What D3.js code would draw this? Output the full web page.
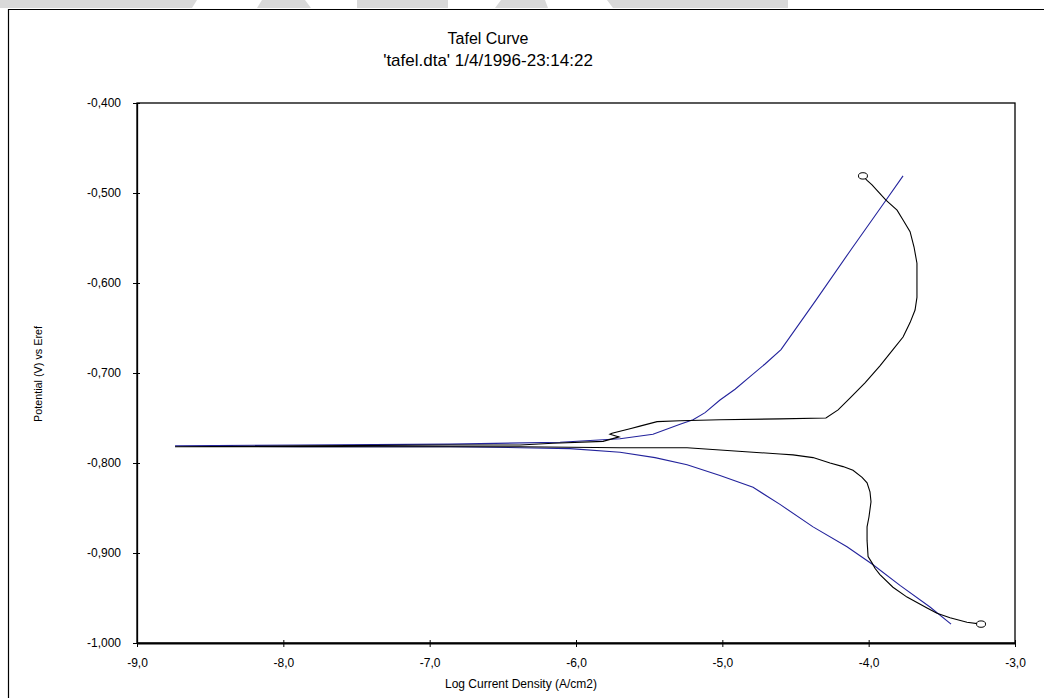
<!DOCTYPE html>
<html>
<head>
<meta charset="utf-8">
<script src="https://cdn.jsdelivr.net/npm/d3@7/dist/d3.min.js"></script>
<style>
  html, body { margin: 0; padding: 0; background: #fff; }
  svg { display: block; }
  text { font-family: "Liberation Sans", Arial, sans-serif; fill: #000; }
</style>
</head>
<body>
<svg id="chart" width="1044" height="698"></svg>
<script>
// Axis ticks
const xTicks = [-9, -8, -7, -6, -5, -4, -3];
const yTicks = [-0.4, -0.5, -0.6, -0.7, -0.8, -0.9, -1.0];

// Measured scan: cathodic end -> corrosion potential -> anodic end
const measuredLogI = [
  -3.232, -3.328, -3.444, -3.533, -3.601, -3.738, -3.834, -3.923, -3.957, -3.977,
  -4.004, -4.011, -4.011, -3.998, -3.984, -3.991, -4.011, -4.045, -4.107, -4.175,
  -4.264, -4.380, -4.517, -4.606, -4.790, -5.241, -5.699, -6.383, -7.886, -8.740,
  -7.886, -6.861, -6.383, -6.157, -5.815, -5.706, -5.768, -5.754, -5.631, -5.563,
  -5.446, -5.289, -5.016, -4.606, -4.292, -4.209, -4.128, -4.025, -3.923, -3.834,
  -3.765, -3.717, -3.683, -3.670, -3.670, -3.690, -3.717, -3.765, -3.806, -3.882,
  -3.943, -3.977, -4.011, -4.039
];
const measuredE = [
  -0.979, -0.977, -0.972, -0.967, -0.961, -0.949, -0.938, -0.924, -0.917, -0.911,
  -0.904, -0.886, -0.871, -0.860, -0.843, -0.832, -0.822, -0.816, -0.808, -0.804,
  -0.800, -0.794, -0.791, -0.790, -0.788, -0.783, -0.783, -0.782, -0.782, -0.782,
  -0.781, -0.780, -0.780, -0.778, -0.776, -0.771, -0.768, -0.767, -0.762, -0.759,
  -0.754, -0.753, -0.752, -0.751, -0.750, -0.741, -0.728, -0.711, -0.692, -0.674,
  -0.660, -0.644, -0.630, -0.616, -0.578, -0.560, -0.543, -0.530, -0.519, -0.508,
  -0.497, -0.491, -0.486, -0.481
];

// Tafel fit: anodic branch top -> Ecorr -> cathodic branch end
const fitLogI = [
  -3.765, -3.882, -4.121, -4.360, -4.599, -4.708, -4.811, -4.913, -5.016, -5.118,
  -5.200, -5.289, -5.474, -5.699, -6.109, -6.861, -7.886, -8.740, -7.886, -6.861,
  -6.383, -6.041, -5.699, -5.460, -5.241, -5.016, -4.790, -4.606, -4.380, -4.148,
  -3.970, -3.786, -3.581, -3.437
];
const fitE = [
  -0.481, -0.508, -0.563, -0.619, -0.674, -0.690, -0.704, -0.718, -0.730, -0.744,
  -0.752, -0.757, -0.768, -0.773, -0.777, -0.779, -0.780, -0.781, -0.782, -0.782,
  -0.783, -0.784, -0.788, -0.794, -0.802, -0.814, -0.827, -0.846, -0.871, -0.893,
  -0.913, -0.936, -0.960, -0.979
];

const svg = d3.select("#chart");
const plot = { left: 137, right: 1015, top: 103, bottom: 643 };

const x = d3.scaleLinear().domain([-9, -3]).range([plot.left, plot.right]);
const y = d3.scaleLinear().domain([-0.4, -1.0]).range([plot.top, plot.bottom]);

const locale = d3.formatLocale({ decimal: ",", thousands: ".", grouping: [3], currency: ["", ""], minus: "-" });
const fmtX = locale.format(".1f");
const fmtY = locale.format(".3f");

// Light grey banner shapes along the top edge
const banner = [
  [[0,0],[197,0],[192,8],[0,8]],
  [[257,8],[262,0],[305,0],[311,8]],
  [[357,0],[448,0],[448,8],[357,8]],
  [[495,8],[501,0],[545,0],[548,8]],
  [[607,0],[788,0],[788,8],[613,8]]
];
svg.append("g").selectAll("polygon").data(banner).join("polygon")
  .attr("points", d => d.map(p => p.join(",")).join(" "))
  .attr("fill", "#d9d9d9");

// Outer frame (left and top edges visible)
svg.append("path")
  .attr("d", "M8.5,700 V9.5 H1050")
  .attr("fill", "none").attr("stroke", "#000").attr("stroke-width", 1.2);

// Titles
svg.append("text").attr("x", 488).attr("y", 44).attr("text-anchor", "middle")
  .attr("font-size", 16).text("Tafel Curve");
svg.append("text").attr("x", 488).attr("y", 66).attr("text-anchor", "middle")
  .attr("font-size", 17).text("'tafel.dta' 1/4/1996-23:14:22");

// Plot box
svg.append("rect")
  .attr("x", plot.left).attr("y", plot.top)
  .attr("width", plot.right - plot.left).attr("height", plot.bottom - plot.top)
  .attr("fill", "none").attr("stroke", "#000").attr("stroke-width", 1.3);

// Axes
const gx = svg.append("g").attr("transform", `translate(0,${plot.bottom})`)
  .call(d3.axisBottom(x).tickValues(xTicks).tickFormat(fmtX)
    .tickSizeInner(4).tickSizeOuter(0).tickPadding(11));
gx.select(".domain").attr("stroke-width", 2);
gx.selectAll(".tick line").attr("y1", -3);
gx.selectAll(".tick text").attr("font-size", 12).attr("font-family", "Liberation Sans, Arial, sans-serif");

const gy = svg.append("g").attr("transform", `translate(${plot.left},0)`)
  .call(d3.axisLeft(y).tickValues(yTicks).tickFormat(fmtY)
    .tickSizeInner(4).tickSizeOuter(0).tickPadding(12));
gy.select(".domain").attr("stroke-width", 1.3);
gy.selectAll(".tick line").attr("x1", 3);
gy.selectAll(".tick text").attr("font-size", 12).attr("font-family", "Liberation Sans, Arial, sans-serif");

// Axis titles
svg.append("text").attr("x", 521).attr("y", 688).attr("text-anchor", "middle")
  .attr("font-size", 12).text("Log Current Density (A/cm2)");
svg.append("text")
  .attr("transform", "translate(42,374) rotate(-90)")
  .attr("text-anchor", "middle").attr("font-size", 11)
  .attr("textLength", 96).attr("lengthAdjust", "spacingAndGlyphs")
  .text("Potential (V) vs Eref");

// Curves
const line = d3.line().x(d => x(d[0])).y(d => y(d[1]));
const measured = measuredLogI.map((v, i) => [v, measuredE[i]]);
const fit = fitLogI.map((v, i) => [v, fitE[i]]);

svg.append("path").datum(fit)
  .attr("d", line).attr("fill", "none")
  .attr("stroke", "#23239c").attr("stroke-width", 1.1);

svg.append("path").datum(measured)
  .attr("d", line).attr("fill", "none")
  .attr("stroke", "#000").attr("stroke-width", 1.1);

// End markers on the measured scan
const ends = [measured[0], measured[measured.length - 1]];
svg.append("g").selectAll("ellipse").data(ends).join("ellipse")
  .attr("cx", d => x(d[0])).attr("cy", d => y(d[1]))
  .attr("rx", 4.5).attr("ry", 3.2)
  .attr("fill", "#fff").attr("stroke", "#000").attr("stroke-width", 1);
</script>
</body>
</html>
